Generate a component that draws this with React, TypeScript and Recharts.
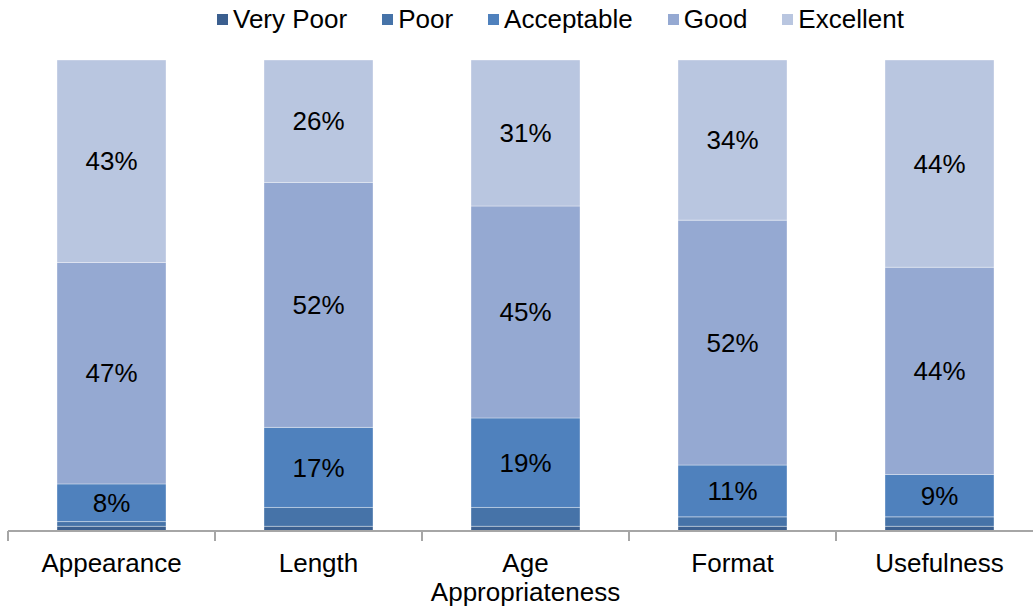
import React from 'react'
import { BarChart, Bar, XAxis, YAxis, LabelList } from 'recharts'

const categories = ['Appearance', 'Length', 'Age Appropriateness', 'Format', 'Usefulness']
const veryPoor = [1, 1, 1, 1, 1]
const poor = [1, 4, 4, 2, 2]
const acceptable = [8, 17, 19, 11, 9]
const good = [47, 52, 45, 52, 44]
const excellent = [43, 26, 31, 34, 44]

const series = [
  { key: 'veryPoor', name: 'Very Poor', color: '#3B5F8F', label: false },
  { key: 'poor', name: 'Poor', color: '#4673A8', label: false },
  { key: 'acceptable', name: 'Acceptable', color: '#4F81BD', label: true },
  { key: 'good', name: 'Good', color: '#95A9D2', label: true },
  { key: 'excellent', name: 'Excellent', color: '#B9C6E0', label: true },
]

const data = categories.map((name, i) => ({
  name,
  veryPoor: veryPoor[i],
  poor: poor[i],
  acceptable: acceptable[i],
  good: good[i],
  excellent: excellent[i],
}))

const FONT = '"Liberation Sans", Arial, sans-serif'
const CHART_W = 1043
const CHART_H = 609
const LEFT = 8
const BAND = (CHART_W - LEFT) / categories.length

function CategoryTick(props: any) {
  const { x, y, payload, index } = props
  const words: string[] = payload.value === 'Age Appropriateness' ? ['Age', 'Appropriateness'] : [payload.value]
  return (
    <g>
      <line x1={x - BAND / 2} x2={x - BAND / 2} y1={y} y2={y + 10} stroke="#A6A6A6" strokeWidth={2} />
      {index === categories.length - 1 && (
        <line x1={x + BAND / 2} x2={x + BAND / 2} y1={y} y2={y + 10} stroke="#A6A6A6" strokeWidth={2} />
      )}
      <text x={x} y={y + 41} textAnchor="middle" fontSize={26} fontFamily={FONT} fill="#000">
        {words.map((w, i) => (
          <tspan key={w} x={x} dy={i === 0 ? 0 : 29}>
            {w}
          </tspan>
        ))}
      </text>
    </g>
  )
}

export default function App() {
  return (
    <div style={{ position: 'absolute', left: 0, top: 0, width: 1033, height: CHART_H, overflow: 'hidden', background: '#fff' }}>
      <div
        style={{
          position: 'absolute',
          top: 4,
          left: 217,
          display: 'flex',
          alignItems: 'center',
          fontFamily: FONT,
          fontSize: 26,
          whiteSpace: 'nowrap',
        }}
      >
        {series.map((s) => (
          <div key={s.key} style={{ display: 'flex', alignItems: 'center', marginRight: 35 }}>
            <span style={{ width: 11, height: 11, background: s.color, display: 'inline-block', marginRight: 5 }} />
            <span>{s.name}</span>
          </div>
        ))}
      </div>
      <BarChart
        width={CHART_W}
        height={CHART_H}
        data={data}
        margin={{ top: 60, right: 0, bottom: 0, left: LEFT }}
        barSize={109}
      >
        <XAxis
          dataKey="name"
          height={78}
          axisLine={{ stroke: '#A6A6A6', strokeWidth: 2 }}
          tickLine={false}
          tickSize={0}
          tickMargin={0}
          interval={0}
          tick={<CategoryTick />}
        />
        <YAxis hide domain={[0, 100]} />
        {series.map((s) => (
          <Bar
            key={s.key}
            dataKey={s.key}
            name={s.name}
            stackId="a"
            fill={s.color}
            stroke="rgba(255,255,255,0.35)"
            strokeWidth={1}
            isAnimationActive={false}
          >
            {s.label && (
              <LabelList
                dataKey={s.key}
                position="center"
                formatter={(v: any) => `${v}%`}
                style={{ fontSize: 26, fontFamily: FONT, fill: '#000' }}
              />
            )}
          </Bar>
        ))}
      </BarChart>
    </div>
  )
}
